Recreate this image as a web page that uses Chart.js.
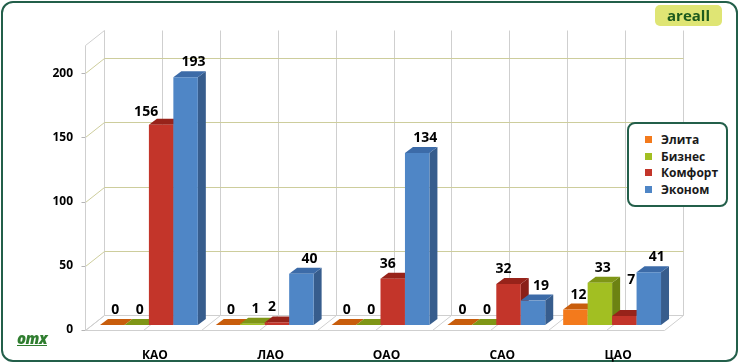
<!DOCTYPE html>
<html>
<head>
<meta charset="utf-8">
<script src="https://cdn.jsdelivr.net/npm/chart.js@4"></script>
<style>
  body { margin: 0; background: #fff; }
  #wrap { position: relative; width: 739px; height: 364px; font-family: "Open Sans", sans-serif; }
  #frame { position: absolute; left: 1px; top: 1px; width: 737px; height: 361px; box-sizing: border-box;
           border: 2px solid #235f4a; border-radius: 12px; }
  #grafica { position: absolute; left: 0; top: 0; }
  #badge { position: absolute; left: 655px; top: 5px; width: 67px; height: 21px; background: #dfe574;
           border-radius: 5px; color: #1d5a1d; font-weight: 700; font-size: 15px; line-height: 21px; text-align: center; }
  #legend { position: absolute; left: 627px; top: 122px; width: 101px; height: 85px; box-sizing: border-box;
            border: 2px solid #235f4a; border-radius: 8px; background: #fff; padding-top: 8px; }
  #legend div { height: 16.7px; line-height: 16.7px; font-size: 12px; font-weight: 700; color: #1a1a1a; padding-left: 16px; }
  #legend span { display: inline-block; width: 7px; height: 7px; margin-right: 9px; vertical-align: 1px; }
  #logo { position: absolute; left: 17px; top: 328px; font-style: italic; font-weight: 800; font-size: 15px;
          color: #2f7d2f; text-decoration: underline; letter-spacing: -0.5px; }
</style>
</head>
<body>
<div id="wrap">
  <div id="frame"></div>
  <canvas id="grafica" width="739" height="364"></canvas>
  <div id="badge">areall</div>
  <div id="legend"></div>
  <div id="logo">omx</div>
</div>
<script>
// datos
const categorias = ["КАО", "ЛАО", "ОАО", "САО", "ЦАО"];
const series = ["Элита", "Бизнес", "Комфорт", "Эконом"];
const elita = [0, 0, 0, 0, 12];
const biznes = [0, 1, 0, 0, 33];
const komfort = [156, 2, 36, 32, 7];
const ekonom = [193, 40, 134, 19, 41];
const yTicks = [0, 50, 100, 150, 200];
const yMax = 222;

// colores: frente, tapa, lado
const colores = [
  ["#f37a1c", "#c85d0c", "#b8560c"],
  ["#a2bf22", "#7f9616", "#6c8212"],
  ["#c3352a", "#97231a", "#8a2018"],
  ["#4f86c6", "#3c6ba8", "#375d8d"]
];
// desplazamiento de etiquetas (estilo)
const desplLabel = [0, 0, -8, 5];
const ajustes = { "Комфорт|КАО": [-15, -13], "Комфорт|ЦАО": [7, -36] };

// leyenda
const leyenda = document.getElementById("legend");
series.forEach((s, i) => {
  let d = document.createElement("div");
  d.innerHTML = `<span style="background:${colores[i][0]}"></span>${s}`;
  leyenda.appendChild(d);
});

const FX = -6, FY = 5, BX = 13, BY = -10; // frente / fondo
const DX = 8, DY = -6; // profundidad de barra

function linea(ctx, x1, y1, x2, y2, color) {
  ctx.strokeStyle = color;
  ctx.lineWidth = 1;
  ctx.beginPath();
  ctx.moveTo(Math.round(x1) + 0.5, Math.round(y1) + 0.5);
  ctx.lineTo(Math.round(x2) + 0.5, Math.round(y2) + 0.5);
  ctx.stroke();
}

function poly(ctx, pts, color) {
  ctx.fillStyle = color;
  ctx.beginPath();
  ctx.moveTo(pts[0][0], pts[0][1]);
  for (let i = 1; i < pts.length; i++) ctx.lineTo(pts[i][0], pts[i][1]);
  ctx.closePath();
  ctx.fill();
}

const plugin3d = {
  id: "tresD",
  beforeDatasetsDraw(chart) {
    const ctx = chart.ctx;
    const ca = chart.chartArea;
    const y = chart.scales.y;
    const gris = "#cfcfcf", oliva = "#cdcd9c";
    ctx.save();
    // pared del fondo: verticales
    const paso = ca.width / (categorias.length * 2);
    for (let k = 0; k <= categorias.length * 2; k++) {
      let xx = ca.left + k * paso;
      linea(ctx, xx + BX, ca.top + BY, xx + BX, ca.bottom + BY, gris);
      linea(ctx, xx + FX, ca.bottom + FY, xx + BX, ca.bottom + BY, gris);
    }
    // horizontales
    yTicks.forEach(v => {
      let py = y.getPixelForValue(v);
      let c = v === 0 ? gris : oliva;
      linea(ctx, ca.left + BX, py + BY, ca.right + BX, py + BY, c);
      linea(ctx, ca.left + FX, py + FY, ca.left + BX, py + BY, c);
      linea(ctx, ca.left + FX - 4, py + FY, ca.left + FX, py + FY, "#b5b5b5");
    });
    linea(ctx, ca.left + FX, ca.top + FY, ca.left + BX, ca.top + BY, gris);
    linea(ctx, ca.left + FX, ca.top + FY, ca.left + FX, ca.bottom + FY, gris);
    linea(ctx, ca.left + FX, ca.bottom + FY, ca.right + FX, ca.bottom + FY, gris);

    // barras, de izquierda a derecha
    let barras = [];
    chart.data.datasets.forEach((ds, i) => {
      chart.getDatasetMeta(i).data.forEach((el, j) => {
        barras.push({ el: el, s: i, c: j, v: ds.data[j] });
      });
    });
    barras.sort((a, b) => a.el.x - b.el.x);
    barras.forEach(b => {
      let x0 = b.el.x - b.el.width / 2, x1 = b.el.x + b.el.width / 2;
      let yt = b.el.y, yb = b.el.base;
      let c = colores[b.s];
      poly(ctx, [[x1, yt], [x1 + DX, yt + DY], [x1 + DX, yb + DY], [x1, yb]], c[2]);
      poly(ctx, [[x0, yt], [x1, yt], [x1 + DX, yt + DY], [x0 + DX, yt + DY]], c[1]);
      if (yb - yt > 0) poly(ctx, [[x0, yt], [x1, yt], [x1, yb], [x0, yb]], c[0]);
    });
    // etiquetas
    ctx.fillStyle = "#000";
    ctx.font = "bold 14px 'Open Sans'";
    ctx.textAlign = "center";
    ctx.textBaseline = "middle";
    barras.forEach(b => {
      let aj = ajustes[series[b.s] + "|" + categorias[b.c]];
      let dx = aj ? aj[0] : 3 + desplLabel[b.s];
      let dy = aj ? aj[1] : -15;
      ctx.fillText(String(b.v), b.el.x + dx, b.el.y + dy);
    });
    ctx.restore();
    return false;
  }
};

const ctx = document.getElementById("grafica").getContext("2d");
const grafica = new Chart(ctx, {
  type: "bar",
  data: {
    labels: categorias,
    datasets: [
      { label: series[0], data: elita, backgroundColor: colores[0][0] },
      { label: series[1], data: biznes, backgroundColor: colores[1][0] },
      { label: series[2], data: komfort, backgroundColor: colores[2][0] },
      { label: series[3], data: ekonom, backgroundColor: colores[3][0] }
    ]
  },
  options: {
    responsive: false,
    animation: false,
    layout: { padding: { left: 0, right: 69, top: 40, bottom: 0 } },
    datasets: { bar: { categoryPercentage: 0.845, barPercentage: 1 } },
    plugins: { legend: { display: false }, tooltip: { enabled: false } },
    scales: {
      x: {
        grid: { display: false },
        border: { display: false },
        ticks: { color: "#000", font: { family: "Open Sans", weight: "bold", size: 12 }, padding: 15, labelOffset: 6 },
        afterFit: s => { s.height = 39; }
      },
      y: {
        min: 0,
        max: yMax,
        grid: { display: false },
        border: { display: false },
        afterBuildTicks: s => { s.ticks = yTicks.map(v => ({ value: v })); },
        ticks: { color: "#000", font: { family: "Open Sans", weight: "bold", size: 12 }, padding: 10, labelOffset: 5 },
        afterFit: s => { s.width = 91; }
      }
    }
  },
  plugins: [plugin3d]
});
</script>
</body>
</html>
